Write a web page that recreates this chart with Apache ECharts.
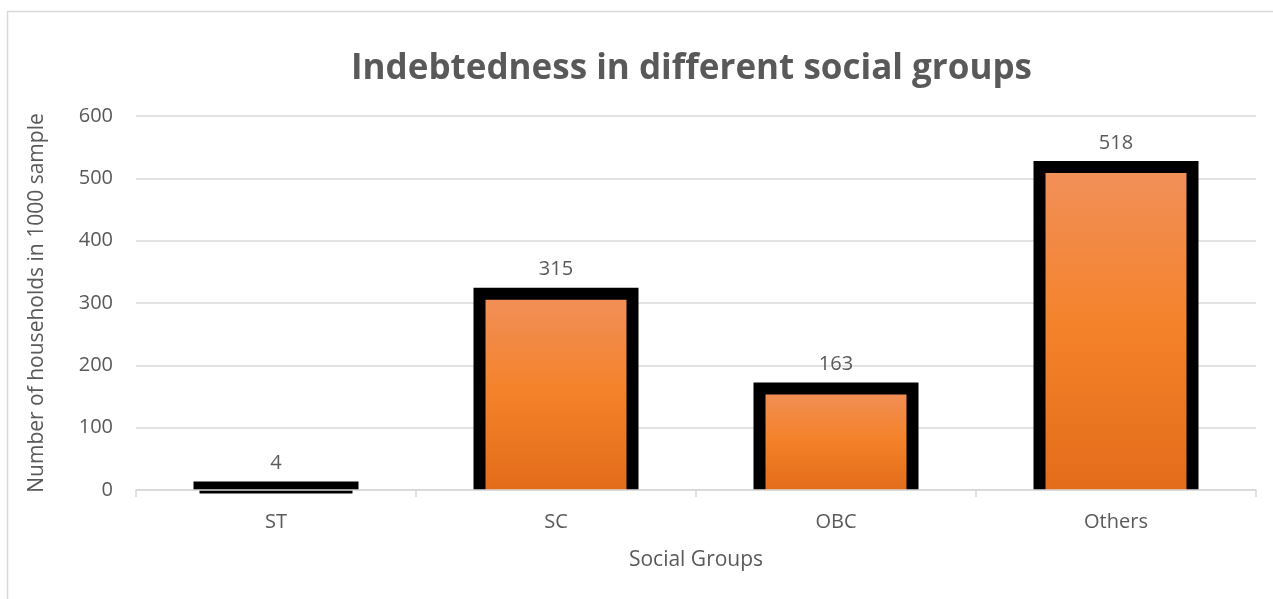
<!DOCTYPE html>
<html>
<head>
<meta charset="utf-8">
<script src="https://cdn.jsdelivr.net/npm/echarts@6/dist/echarts.min.js"></script>
<style>
html,body{margin:0;padding:0;background:#fff;}
#chart{width:1273px;height:599px;}
</style>
</head>
<body>
<div id="chart"></div>
<script>
const titleText = "Indebtedness in different social groups";
const categories = ["ST", "SC", "OBC", "Others"];
const households = [4, 315, 163, 518];
const yAxisName = "Number of households in 1000 sample";
const xAxisName = "Social Groups";

const chart = echarts.init(document.getElementById('chart'));
const font = "'Open Sans', sans-serif";
const textColor = '#595959';
const barW = 153, edge = 12;

const fillGrad = new echarts.graphic.LinearGradient(0, 0, 0, 1, [
  { offset: 0, color: '#F1905A' },
  { offset: 0.5, color: '#F4822A' },
  { offset: 1, color: '#E36C1A' }
]);

function renderBar(params, api) {
  const idx = api.value(0);
  const val = api.value(1);
  const top = api.coord([idx, val]);
  const base = api.coord([idx, 0]);
  const x0 = top[0] - barW / 2;
  const x1 = top[0] + barW / 2;
  return {
    type: 'group',
    children: [
      {
        type: 'rect',
        shape: { x: x0, y: top[1], width: barW, height: base[1] - top[1] },
        style: { fill: fillGrad }
      },
      {
        type: 'polyline',
        shape: { points: [[x0, base[1]], [x0, top[1]], [x1, top[1]], [x1, base[1]]] },
        style: { fill: 'none', stroke: '#000', lineWidth: edge, lineJoin: 'miter' }
      },
      {
        type: 'text',
        x: top[0],
        y: top[1] - 14,
        style: {
          text: String(val),
          fill: textColor,
          font: "20px 'Open Sans', sans-serif",
          textAlign: 'center',
          textVerticalAlign: 'bottom'
        }
      }
    ]
  };
}

chart.setOption({
  animation: false,
  title: {
    text: titleText,
    left: 346,
    top: 47,
    textStyle: { fontFamily: font, fontWeight: 'bold', fontSize: 35, color: textColor }
  },
  graphic: [{
    type: 'rect',
    shape: { x: 7.5, y: 11.5, width: 1400, height: 800 },
    style: { fill: 'none', stroke: '#D9D9D9', lineWidth: 1.5 },
    silent: true, z: -10
  }],
  grid: { left: 136, right: 17, top: 116, bottom: 109, containLabel: false },
  xAxis: {
    type: 'category',
    data: categories,
    name: xAxisName,
    nameLocation: 'middle',
    nameGap: 60,
    z: 10,
    nameTextStyle: { fontFamily: font, fontSize: 21, color: textColor },
    axisLine: { show: true, lineStyle: { color: '#D9D9D9', width: 1.5 } },
    axisTick: { show: true, length: 7, lineStyle: { color: '#D9D9D9', width: 1.5 } },
    axisLabel: { fontFamily: font, fontSize: 20, color: textColor, margin: 22 }
  },
  yAxis: {
    type: 'value',
    min: 0, max: 600, interval: 100,
    name: yAxisName,
    nameLocation: 'middle',
    nameGap: 88,
    nameTextStyle: { fontFamily: font, fontSize: 21, color: textColor },
    axisLine: { show: false },
    axisTick: { show: false },
    axisLabel: { fontFamily: font, fontSize: 20, color: textColor, margin: 23 },
    splitLine: { lineStyle: { color: '#D9D9D9', width: 1.5 } }
  },
  series: [{
    type: 'custom',
    renderItem: renderBar,
    encode: { x: 0, y: 1 },
    data: households.map((v, i) => [i, v]),
    clip: false
  }]
});
</script>
</body>
</html>
